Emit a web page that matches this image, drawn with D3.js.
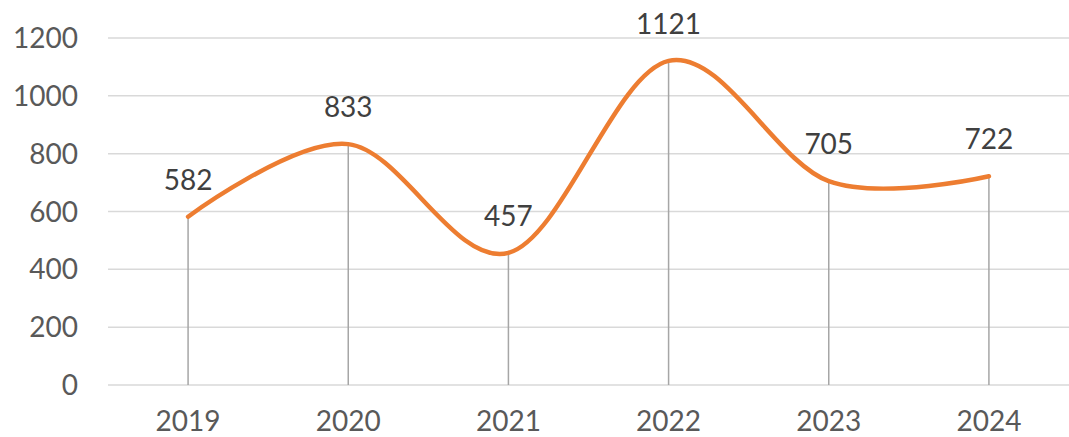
<!DOCTYPE html>
<html>
<head>
<meta charset="utf-8">
<script src="https://cdn.jsdelivr.net/npm/d3@7"></script>
<style>
  body { margin: 0; background: #fff; }
  svg { display: block; font-family: Lato, "Open Sans", sans-serif; }
</style>
</head>
<body>
<div id="chart"></div>
<script>
const years = ["2019", "2020", "2021", "2022", "2023", "2024"];
const values = [582, 833, 457, 1121, 705, 722];
const yTicks = [0, 200, 400, 600, 800, 1000, 1200];

const W = 1069, H = 437;
const margin = {top: 38, right: 0, bottom: 52, left: 108};
const width = W - margin.left - margin.right;
const height = H - margin.top - margin.bottom;

const data = years.map((y, i) => ({year: y, value: values[i]}));

const x = d3.scaleBand()
  .domain(years)
  .range([0, width]);
const y = d3.scaleLinear()
  .domain([0, 1200])
  .range([height, 0]);

const svg = d3.select("#chart")
  .append("svg")
  .attr("width", W)
  .attr("height", H)
  .append("g")
  .attr("transform", `translate(${margin.left}, ${margin.top})`);

// gridlines
svg.append("g")
  .selectAll("line")
  .data(yTicks)
  .join("line")
  .attr("x1", 0)
  .attr("x2", width)
  .attr("y1", d => y(d))
  .attr("y2", d => y(d))
  .attr("stroke", "#d9d9d9")
  .attr("stroke-width", 1.5);

// y labels
svg.append("g")
  .selectAll("text")
  .data(yTicks)
  .join("text")
  .attr("x", -30)
  .attr("y", d => y(d))
  .attr("dy", "0.36em")
  .attr("text-anchor", "end")
  .attr("fill", "#595959")
  .attr("font-size", 28)
  .text(d => d);

// x labels (kept just inside the bottom edge)
svg.append("g")
  .selectAll("text")
  .data(years)
  .join("text")
  .attr("x", d => x(d) + x.bandwidth() / 2)
  .attr("y", height + 46)
  .attr("text-anchor", "middle")
  .attr("fill", "#595959")
  .attr("font-size", 28)
  .text(d => d);

const cx = d => x(d.year) + x.bandwidth() / 2;

// drop lines
svg.append("g")
  .selectAll("line")
  .data(data)
  .join("line")
  .attr("x1", cx)
  .attr("x2", cx)
  .attr("y1", d => y(d.value))
  .attr("y2", height)
  .attr("stroke", "#a6a6a6")
  .attr("stroke-width", 1.5);

// smoothed line
const line = d3.line()
  .x(cx)
  .y(d => y(d.value))
  .curve(d3.curveCardinal.tension(0));

svg.append("path")
  .datum(data)
  .attr("fill", "none")
  .attr("stroke", "#ed7d31")
  .attr("stroke-width", 4.5)
  .attr("stroke-linecap", "round")
  .attr("d", line);

// value labels
svg.append("g")
  .selectAll("text")
  .data(data)
  .join("text")
  .attr("x", cx)
  .attr("y", d => y(d.value) - 27)
  .attr("text-anchor", "middle")
  .attr("fill", "#404040")
  .attr("font-size", 28)
  .text(d => d.value);
</script>
</body>
</html>
